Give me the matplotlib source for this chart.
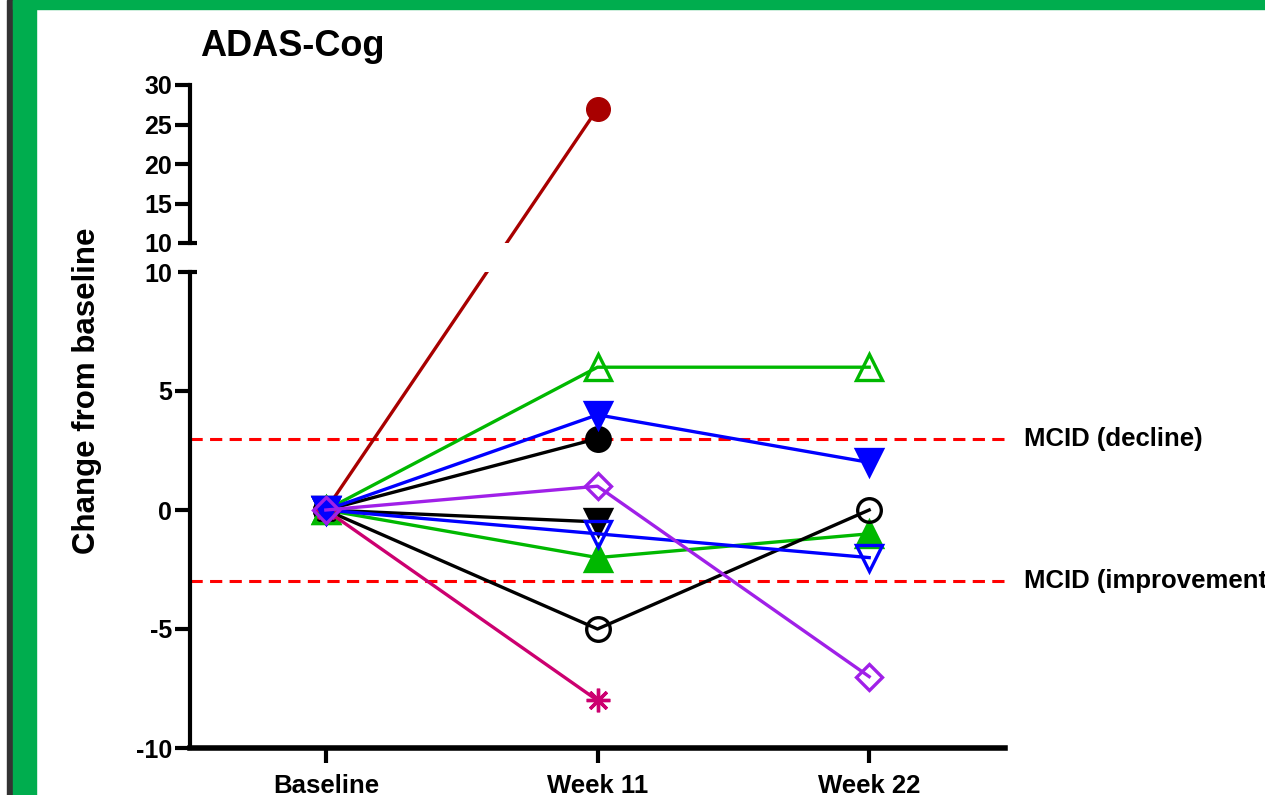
import matplotlib
matplotlib.use("Agg")
import matplotlib.pyplot as plt
from matplotlib.patches import Rectangle

plt.rcParams['font.family'] = ['Liberation Sans', 'DejaVu Sans']
plt.rcParams['font.weight'] = 'bold'
plt.rcParams['axes.unicode_minus'] = False

# ---------------------------------------- DATA ----------------------------------------

timepoints = ["Baseline", "Week 11", "Week 22"]

# each subject: values at baseline / week 11 / week 22 (None = missing)
red_circle = [0, 27, None]
green_open_tri = [0, 6, 6]
blue_tri_down = [0, 4, 2]
black_circle = [0, 3, None]
black_tri_down = [0, -0.5, None]
blue_open_tri_down = [0, -1, -2]
green_tri = [0, -2, -1]
black_open_circle = [0, -5, 0]
magenta_star = [0, -8, None]
purple_open_diamond = [0, 1, -7]

mcid_decline = 3
mcid_improvement = -3

bottom_ticks = [-10, -5, 0, 5, 10]
top_ticks = [10, 15, 20, 25, 30]

# ---------------------------------------- FIGURE ----------------------------------------

W, H = 1265, 795
fig = plt.figure(figsize=(W / 100, H / 100), dpi=100)

# green frame around the slide
fig.patches.append(Rectangle((0, 0), 1, 1, transform=fig.transFigure, color='white', zorder=-10))
fig.patches.append(Rectangle((7 / W, 0), 6 / W, 1, transform=fig.transFigure, color='#333333', zorder=-5))
fig.patches.append(Rectangle((13 / W, 0), 23 / W, 1, transform=fig.transFigure, color='#00AD4E', zorder=-5))
fig.patches.append(Rectangle((13 / W, 1 - 9 / H), 1, 9 / H, transform=fig.transFigure, color='#00AD4E', zorder=-5))

left, right = 190 / W, 1005 / W
ax = fig.add_axes([left, 1 - 748 / H, right - left, (748 - 272) / H])
ax_top = fig.add_axes([left, 1 - 243 / H, right - left, (243 - 85) / H])

x = list(range(len(timepoints)))

for a in (ax, ax_top):
    a.set_xlim(-0.5, 2.5)
    a.patch.set_alpha(0)
    for s in ['top', 'right']:
        a.spines[s].set_visible(False)
    a.spines['left'].set_linewidth(3)
    a.tick_params(axis='y', width=3, length=11, labelsize=18, pad=2)
    for lab in a.get_yticklabels():
        lab.set_fontweight('bold')

ax.set_ylim(-10, 10)
ax.set_yticks(bottom_ticks)
ax.spines['bottom'].set_linewidth(4)
ax.set_xticks(x)
ax.set_xticklabels(timepoints, fontsize=18.5, fontweight='bold')
ax.tick_params(axis='x', width=3, length=11, pad=8)

ax_top.set_ylim(10, 30)
ax_top.set_yticks(top_ticks)
ax_top.spines['bottom'].set_visible(False)
ax_top.set_xticks([])

# break marks at 10 (ticks crossing the spine)
for a, idx in ((ax, -1), (ax_top, 0)):
    t = a.yaxis.get_major_ticks()[idx]
    t.tick1line.set_markersize(14)
    t.tick1line.set_transform(t.tick1line.get_transform() + matplotlib.transforms.ScaledTranslation(5 / 72, 0, fig.dpi_scale_trans))

# MCID reference lines
for yv, lab in ((mcid_decline, "MCID (decline)"), (mcid_improvement, "MCID (improvement)")):
    ax.axhline(yv, color='#FF0000', lw=2.2, dashes=(4, 2.4), zorder=1)
    ax.text(2.57, yv, lab, fontsize=18.5, fontweight='bold', va='center', ha='left', clip_on=False)

GREEN = '#00B800'
BLUE = '#0000FF'
PURPLE = '#A020E8'
MAGENTA = '#CC0070'
DARKRED = '#A80000'


def plot_subject(vals, color, marker, ms, filled=True):
    xs = [i for i, v in zip(x, vals) if v is not None]
    ys = [v for v in vals if v is not None]
    ax.plot(xs, ys, color=color, lw=2.4, marker=marker, ms=ms, mew=2.4,
            mfc=color if filled else 'none', mec=color, zorder=3)


plot_subject(green_tri, GREEN, '^', 19)
plot_subject(black_tri_down, 'black', 'v', 19)
plot_subject(black_open_circle, 'black', 'o', 17, filled=False)
plot_subject(black_circle, 'black', 'o', 17)
plot_subject(green_open_tri, GREEN, '^', 19, filled=False)
plot_subject(blue_open_tri_down, BLUE, 'v', 19, filled=False)
plot_subject(magenta_star, MAGENTA, (8, 2, 0), 17)
plot_subject(blue_tri_down, BLUE, 'v', 19)
plot_subject(purple_open_diamond, PURPLE, 'D', 13, filled=False)

# the big responder crosses the axis break: straight line in screen space
p0 = ax.transData.transform((x[0], red_circle[0]))
p1 = ax_top.transData.transform((x[1], red_circle[1]))
f0, f1 = fig.transFigure.inverted().transform([p0, p1])
for a in (ax, ax_top):
    a.plot([f0[0], f1[0]], [f0[1], f1[1]], color=DARKRED, lw=2.4, transform=fig.transFigure, zorder=2)
ax.plot(x[0], red_circle[0], 'o', color=DARKRED, ms=17, zorder=2)
ax_top.plot(x[1], red_circle[1], 'o', color=DARKRED, ms=17, zorder=3, clip_on=False)

fig.text(200 / W, 1 - 47 / H, "ADAS-Cog", fontsize=26, fontweight='bold', ha='left', va='center')
fig.text(87 / W, 1 - 391 / H, "Change from baseline", fontsize=22.5, fontweight='bold',
         rotation=90, ha='center', va='center')

fig.savefig("out.png", dpi=100)
